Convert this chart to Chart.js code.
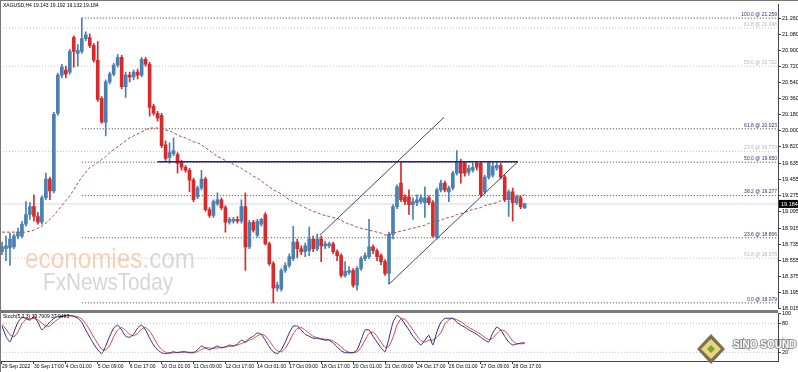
<!DOCTYPE html>
<html><head><meta charset="utf-8">
<script src="https://cdn.jsdelivr.net/npm/chart.js@4.4.1/dist/chart.umd.min.js"></script>
<style>
html,body{margin:0;padding:0;background:#fff;}
#wrap{position:relative;width:798px;height:372px;overflow:hidden;background:#fff;}
#main{position:absolute;left:0;top:0;}
#osc{position:absolute;left:0;top:308px;}
</style></head><body>
<div id="wrap"><canvas id="main" width="798" height="313"></canvas><canvas id="osc" width="798" height="64"></canvas></div>
<script>
// ---------- DATA ----------
const title = 'XAGUSD,H4 19.143 19.192 19.132 19.184';
const tickLabels = ['29 Sep 2022','30 Sep 17:00','4 Oct 01:00','5 Oct 09:00','6 Oct 17:00','10 Oct 01:00','11 Oct 09:00','12 Oct 17:00','14 Oct 01:00','17 Oct 09:00','18 Oct 17:00','20 Oct 01:00','21 Oct 09:00','24 Oct 17:00','26 Oct 01:00','27 Oct 09:00','28 Oct 17:00'];
const barsPerTick = 8;
const slotCount = 195;
const priceTicks = [21.260,21.080,20.900,20.720,20.540,20.360,20.180,20.000,19.820,19.635,19.455,19.275,19.095,18.915,18.735,18.555,18.375,18.195,18.015];
const stochTicks = [100,80,20];
const stochLevels = [80,20];

const open = [18.650,18.683,18.693,18.704,18.825,18.825,18.957,19.066,19.154,19.044,
18.979,19.253,19.461,19.330,20.196,20.623,20.678,20.656,21.040,20.865,
20.887,21.029,21.040,20.952,20.788,20.361,20.097,20.547,20.634,20.733,
20.821,20.492,20.623,20.601,20.656,20.623,20.799,20.744,20.273,20.196,
20.174,19.845,19.703,19.746,19.735,19.648,19.593,19.560,19.450,19.264,
19.362,19.461,19.121,19.055,19.187,19.231,19.143,18.979,18.990,19.012,
18.990,19.154,18.704,18.979,18.836,18.957,19.066,18.737,18.518,18.244,
18.233,18.441,18.496,18.573,18.759,18.683,18.650,18.661,18.792,18.683,
18.792,18.715,18.715,18.737,18.650,18.606,18.387,18.419,18.441,18.277,
18.463,18.573,18.595,18.704,18.661,18.606,18.540,18.408,18.847,19.154,
19.417,19.264,19.264,19.176,19.198,19.209,19.198,19.253,19.198,18.814,
19.341,19.417,19.319,19.362,19.527,19.659,19.637,19.538,19.560,19.637,
19.637,19.319,19.483,19.505,19.582,19.615,19.483,19.231,19.319,19.198,
19.253,19.143];
const high = [18.759,18.825,18.858,18.847,18.913,18.990,19.209,19.198,19.286,19.088,
19.275,19.527,19.483,20.207,20.645,20.744,20.722,20.909,21.062,20.963,
21.259,21.106,21.084,20.974,20.996,20.383,20.569,20.656,20.755,20.854,
20.843,20.656,20.656,20.678,20.689,20.821,20.821,20.766,20.295,20.218,
20.196,19.889,19.867,19.922,19.757,19.670,19.615,19.582,19.472,19.384,
19.560,19.483,19.143,19.231,19.308,19.253,19.165,19.033,19.033,19.044,
19.231,19.308,19.001,19.001,19.012,19.023,19.088,18.759,18.540,18.310,
18.463,18.529,18.628,18.935,18.792,18.715,18.748,18.924,18.825,18.847,
18.825,18.770,18.759,18.759,18.672,18.628,18.540,18.485,18.463,18.485,
18.595,18.639,19.012,18.726,18.683,18.628,18.562,18.869,19.176,19.396,
19.655,19.286,19.341,19.253,19.286,19.286,19.374,19.275,19.220,19.362,
19.450,19.439,19.384,19.549,19.779,19.681,19.659,19.615,19.637,19.659,
19.659,19.505,19.659,19.648,19.648,19.637,19.505,19.341,19.362,19.286,
19.275,19.192];
const low = [18.617,18.551,18.496,18.683,18.792,18.803,18.935,19.012,18.990,18.957,
18.957,19.231,19.231,19.308,20.174,20.590,20.590,20.634,20.711,20.722,
20.865,21.007,20.930,20.766,20.328,20.086,19.944,20.525,20.612,20.711,
20.470,20.372,20.547,20.569,20.580,20.601,20.722,20.163,20.174,20.108,
19.812,19.670,19.637,19.724,19.527,19.560,19.538,19.319,19.209,19.242,
19.341,19.099,19.033,19.033,19.165,19.121,18.869,18.957,18.968,18.968,
18.968,18.441,18.683,18.869,18.814,18.935,18.726,18.496,18.079,18.211,
18.211,18.419,18.474,18.551,18.584,18.617,18.595,18.606,18.650,18.661,
18.540,18.683,18.693,18.628,18.551,18.365,18.365,18.398,18.255,18.222,
18.441,18.551,18.573,18.628,18.551,18.507,18.387,18.288,18.792,19.132,
19.209,19.176,19.066,19.012,19.165,19.187,19.033,19.176,18.814,18.792,
19.319,19.319,19.209,19.341,19.505,19.417,19.494,19.505,19.538,19.560,
19.264,19.297,19.461,19.483,19.560,19.461,19.209,19.044,18.990,19.176,
19.132,19.132];
const close = [18.704,18.715,18.792,18.825,18.869,18.957,19.066,19.154,19.044,18.979,
19.253,19.461,19.330,20.185,20.623,20.711,20.634,20.887,20.887,20.898,
21.029,21.073,20.952,20.788,20.350,20.097,20.547,20.634,20.733,20.821,
20.492,20.623,20.601,20.656,20.623,20.799,20.744,20.262,20.196,20.141,
19.834,19.692,19.757,19.779,19.637,19.593,19.560,19.450,19.231,19.362,
19.461,19.121,19.055,19.209,19.231,19.143,18.979,19.012,19.012,18.990,
19.154,18.704,18.979,18.891,18.990,19.012,18.737,18.518,18.244,18.277,
18.441,18.496,18.595,18.759,18.683,18.650,18.715,18.792,18.683,18.792,
18.715,18.737,18.737,18.650,18.606,18.387,18.430,18.441,18.277,18.463,
18.573,18.606,18.704,18.661,18.595,18.540,18.408,18.847,19.154,19.374,
19.231,19.209,19.176,19.209,19.231,19.253,19.253,19.198,18.825,19.341,
19.417,19.341,19.362,19.527,19.648,19.527,19.527,19.582,19.593,19.593,
19.286,19.483,19.637,19.604,19.615,19.483,19.231,19.319,19.198,19.264,
19.154,19.184];
const maValues = [18.869,18.869,18.869,18.869,18.869,18.869,18.869,18.880,18.891,18.913,
18.935,18.968,19.012,19.055,19.110,19.165,19.220,19.275,19.341,19.417,
19.483,19.538,19.593,19.615,19.648,19.681,19.713,19.757,19.790,19.823,
19.856,19.889,19.922,19.944,19.966,19.988,20.010,20.031,20.031,20.031,
20.020,20.010,19.999,19.977,19.955,19.933,19.922,19.900,19.878,19.867,
19.845,19.812,19.779,19.746,19.713,19.692,19.670,19.648,19.626,19.604,
19.582,19.549,19.527,19.494,19.472,19.439,19.406,19.374,19.341,19.319,
19.297,19.264,19.231,19.209,19.187,19.165,19.143,19.121,19.099,19.088,
19.066,19.055,19.044,19.033,19.023,19.001,18.979,18.957,18.946,18.924,
18.913,18.902,18.891,18.880,18.869,18.858,18.836,18.836,18.858,18.869,
18.880,18.891,18.902,18.913,18.924,18.935,18.946,18.968,18.979,18.990,
19.001,19.023,19.033,19.044,19.066,19.077,19.088,19.110,19.121,19.132,
19.143,19.165,19.176,19.187,19.198,19.220,19.231,19.242,19.253,19.264,
19.275,19.286];
const stochK = [74,53,41,62,82,92,90,86,94,82, 66,74,82,90,94,94,96,96,94,90,
82,66,51,37,25,17,33,53,70,76, 66,53,51,57,70,76,66,49,35,25,
19,17,19,21,19,21,21,19,19,25, 33,29,25,29,33,29,31,35,33,37,
45,41,49,53,60,57,45,31,21,17, 25,41,60,74,74,66,57,53,49,49,
47,45,45,39,31,23,19,19,19,25, 45,66,66,53,41,29,21,49,82,96,
90,78,66,53,43,35,45,55,35,62, 82,90,90,90,82,76,72,66,62,57,
51,45,41,60,72,66,53,41,35,37, 39,39.7909];
const stochD = [78,68,56,52,62,79,88,89,90,87, 80,74,74,82,88,93,95,95,95,93,
89,79,66,51,38,26,25,34,52,66, 71,65,57,54,59,68,71,64,50,36,
26,20,18,19,20,20,20,20,20,21, 26,29,29,28,29,30,31,32,33,35,
38,41,45,48,54,57,54,44,32,23, 21,28,42,58,69,71,66,59,53,50,
48,47,46,43,38,31,24,20,19,21, 30,45,59,62,53,41,30,33,51,76,
89,88,78,66,54,44,41,45,45,51, 60,78,87,90,87,83,77,71,67,62,
57,51,46,49,58,66,64,55,43,38, 37.5,37.9493];
const stochLabel = 'Stoch(5,3,3) 39.7909 37.9493';

// Fibonacci levels (dark set anchored at the top, light set across the whole chart)
const fibDarkLevels = ['100.0','61.8','50.0','38.2','23.6','0.0'];
const fibDarkValues = [21.259,20.023,19.650,19.277,18.806,18.079];
const fibDarkStart = 20;
const fibLightLevels = ['61.8','50.0','23.6','61.8'];
const fibLightValues = [21.148,20.722,19.770,18.578];
// Drawn objects
const resistanceLine = [{x:39,y:19.655},{x:129.3,y:19.655}];
const channelLower = [{x:97,y:18.288},{x:129.3,y:19.655}];
const channelUpper = [{x:79.7,y:18.836},{x:110.8,y:20.152}];

// ---------- STYLE ----------
const BULL = '#4a80b2', BEAR = '#d82a2a';
const FONT = 'Liberation Sans';
Chart.defaults.font.family = FONT;
const slots = Array.from({length: slotCount}, (_, i) => String(i));
const candleColors = close.map((c, i) => c >= open[i] ? BULL : BEAR);
const lastClose = close[close.length - 1];
const xEnd = slotCount - 0.5, xStart = -0.5;

function hline(v, from, color, dash, order) {
  return {type:'line', xAxisID:'x2', yAxisID:'y', data:[{x:from,y:v},{x:xEnd,y:v}],
    borderColor:color, borderWidth:1, borderDash:dash, pointRadius:0, order:order};
}
const datasets = [];
fibLightValues.forEach(v => datasets.push(hline(v, xStart, '#c4c4c4', [1,2], 20)));
fibDarkValues.forEach(v => datasets.push(hline(v, fibDarkStart, '#3a3a3a', [1,2], 19)));
datasets.push(hline(lastClose, xStart, '#cfdceb', [], 18));
datasets.push({label:'wick', data: high.map((h,i)=>[low[i],h]), backgroundColor:candleColors,
  barThickness:1, grouped:false, order:10});
datasets.push({label:'body', data: open.map((o,i)=>[o,close[i]]), backgroundColor:candleColors,
  barThickness:3, minBarLength:1, grouped:false, order:9});
datasets.push({type:'line', label:'MA', data: maValues, borderColor:'#a5524c', borderWidth:1,
  borderDash:[3,2], pointRadius:0, order:5});
[channelLower, channelUpper].forEach(d => datasets.push({type:'line', xAxisID:'x2', yAxisID:'y', data:d,
  borderColor:'#45456a', borderWidth:1, pointRadius:0, order:3}));
datasets.push({type:'line', xAxisID:'x2', yAxisID:'y', data:resistanceLine, borderColor:'#22228a',
  borderWidth:1.6, pointRadius:0, order:2});

const mainDeco = {
  id:'mainDeco',
  beforeDatasetsDraw(chart) {
    const ctx = chart.ctx;
    ctx.save();
    ctx.textBaseline = 'alphabetic';
    ctx.font = '28px "' + FONT + '"';
    ctx.fillStyle = 'rgba(240,150,95,0.45)';
    const w1 = ctx.measureText('economies').width;
    const w2 = ctx.measureText('.com').width;
    const sc = 170 / (w1 + w2);
    ctx.translate(25, 268); ctx.scale(sc, 1);
    ctx.fillText('economies', 0, 0);
    ctx.fillStyle = 'rgba(170,170,170,0.45)';
    ctx.fillText('.com', w1, 0);
    ctx.restore();
    ctx.save();
    ctx.font = '24px "' + FONT + '"';
    ctx.fillStyle = 'rgba(165,165,165,0.45)';
    const w3 = ctx.measureText('FxNewsToday').width;
    ctx.translate(43, 290); ctx.scale(130 / w3, 1);
    ctx.fillText('FxNewsToday', 0, 0);
    ctx.restore();
  },
  afterDraw(chart) {
    const ctx = chart.ctx, a = chart.chartArea, y = chart.scales.y;
    ctx.save();
    ctx.fillStyle = '#777';
    ctx.fillRect(0, 0, 798, 1);
    ctx.fillRect(0, 0, 1, 313);
    ctx.font = '5px "' + FONT + '"';
    ctx.fillStyle = '#000';
    ctx.textBaseline = 'middle'; ctx.textAlign = 'left';
    ctx.fillText(title, 3, 6);
    ctx.textAlign = 'right'; ctx.textBaseline = 'bottom';
    ctx.fillStyle = '#b4b4c4';
    fibLightValues.forEach((v, i) => ctx.fillText(fibLightLevels[i] + ' @ ' + v.toFixed(3), a.right - 1, y.getPixelForValue(v) - 1));
    ctx.fillStyle = '#2e2e78';
    fibDarkValues.forEach((v, i) => ctx.fillText(fibDarkLevels[i] + ' @ ' + v.toFixed(3), a.right - 1, y.getPixelForValue(v) - 1));
    const py = y.getPixelForValue(lastClose);
    ctx.fillStyle = '#000';
    ctx.fillRect(a.right + 1, py - 4, 798 - a.right - 1, 8);
    ctx.fillStyle = '#fff'; ctx.textAlign = 'left'; ctx.textBaseline = 'middle';
    ctx.font = '5.5px "' + FONT + '"';
    ctx.fillText(lastClose.toFixed(3), a.right + 3, py + 0.5);
    ctx.restore();
  }
};

new Chart(document.getElementById('main'), {
  type:'bar',
  data:{labels:slots, datasets},
  options:{
    responsive:false, animation:false, devicePixelRatio:1,
    layout:{padding:{top:1,bottom:2,left:0,right:0}},
    plugins:{legend:{display:false}, tooltip:{enabled:false}},
    scales:{
      x:{display:false, offset:true, grid:{display:false}},
      x2:{type:'linear', display:false, offset:false, min:xStart, max:xEnd},
      y:{position:'right', min:18.014, max:21.413,
        afterBuildTicks:s=>{s.ticks = priceTicks.map(v=>({value:v}));},
        afterFit:s=>{s.width = 20;},
        ticks:{font:{size:5.5}, color:'#000', padding:1, autoSkip:false, callback:v=>Number(v).toFixed(3)},
        grid:{drawOnChartArea:false, tickLength:3, color:'#444'},
        border:{display:true, color:'#444'}}
    }
  },
  plugins:[mainDeco]
});

const oscDeco = {
  id:'oscDeco',
  afterDraw(chart) {
    const ctx = chart.ctx, a = chart.chartArea;
    ctx.save();
    ctx.fillStyle = '#7a7a7a';
    ctx.fillRect(0, 2, a.right, 3);
    ctx.fillStyle = '#777';
    ctx.fillRect(0, 0, 1, 64);
    ctx.font = '5px "' + FONT + '"';
    ctx.fillStyle = '#000'; ctx.textAlign = 'left'; ctx.textBaseline = 'middle';
    ctx.fillText(stochLabel, 3, a.top + 4);
    // logo
    const cx = 711, cy = 41;
    ctx.beginPath(); ctx.moveTo(cx, cy-15); ctx.lineTo(cx+14, cy); ctx.lineTo(cx, cy+15); ctx.lineTo(cx-14, cy); ctx.closePath();
    ctx.fillStyle = '#7d6f4e'; ctx.fill();
    ctx.beginPath(); ctx.moveTo(cx, cy-10); ctx.lineTo(cx+10, cy); ctx.lineTo(cx, cy+10); ctx.lineTo(cx-10, cy); ctx.closePath();
    ctx.fillStyle = '#e6d77c'; ctx.fill();
    ctx.beginPath(); ctx.moveTo(cx, cy-4); ctx.lineTo(cx+4, cy); ctx.lineTo(cx, cy+4); ctx.lineTo(cx-4, cy); ctx.closePath();
    ctx.fillStyle = '#79a23c'; ctx.fill();
    ctx.font = 'bold 10px "' + FONT + '"';
    ctx.lineWidth = 2; ctx.strokeStyle = 'rgba(120,120,120,0.8)';
    ctx.strokeText('SINO SOUND', 733, 37);
    ctx.fillStyle = '#fff';
    ctx.fillText('SINO SOUND', 733, 37);
    ctx.restore();
  }
};

new Chart(document.getElementById('osc'), {
  type:'line',
  data:{labels:slots, datasets:[
    {data:stochK, borderColor:'#28287e', borderWidth:1, pointRadius:0, tension:0.15},
    {data:stochD, borderColor:'#d44040', borderWidth:1, pointRadius:0, tension:0.15},
    ...stochLevels.map(v=>({xAxisID:'x2', data:[{x:xStart,y:v},{x:xEnd,y:v}], borderColor:'#bdbdbd', borderWidth:1, borderDash:[1,2], pointRadius:0}))
  ]},
  options:{
    responsive:false, animation:false, devicePixelRatio:1,
    layout:{padding:{top:5,bottom:0,left:0,right:0}},
    plugins:{legend:{display:false}, tooltip:{enabled:false}},
    scales:{
      x:{offset:true, afterFit:s=>{s.height = 11;},
        grid:{drawOnChartArea:false, tickLength:3,
          color:c=> (c.index % barsPerTick === 0 && c.index / barsPerTick < tickLabels.length) ? '#444' : 'rgba(0,0,0,0)'},
        border:{display:true, color:'#444'},
        ticks:{autoSkip:false, maxRotation:0, minRotation:0, align:'start', padding:0, font:{size:5}, color:'#000',
          callback:(v,i)=> (i % barsPerTick === 0 && i / barsPerTick < tickLabels.length) ? tickLabels[i / barsPerTick] : ''}},
      x2:{type:'linear', display:false, offset:false, min:xStart, max:xEnd},
      y:{position:'right', min:2, max:101,
        afterBuildTicks:s=>{s.ticks = stochTicks.map(v=>({value:v}));},
        afterFit:s=>{s.width = 20;},
        ticks:{font:{size:5.5}, color:'#000', padding:1},
        grid:{drawOnChartArea:false, tickLength:3, color:'#444'},
        border:{display:true, color:'#444'}}
    }
  },
  plugins:[oscDeco]
});
</script>
</body></html>
